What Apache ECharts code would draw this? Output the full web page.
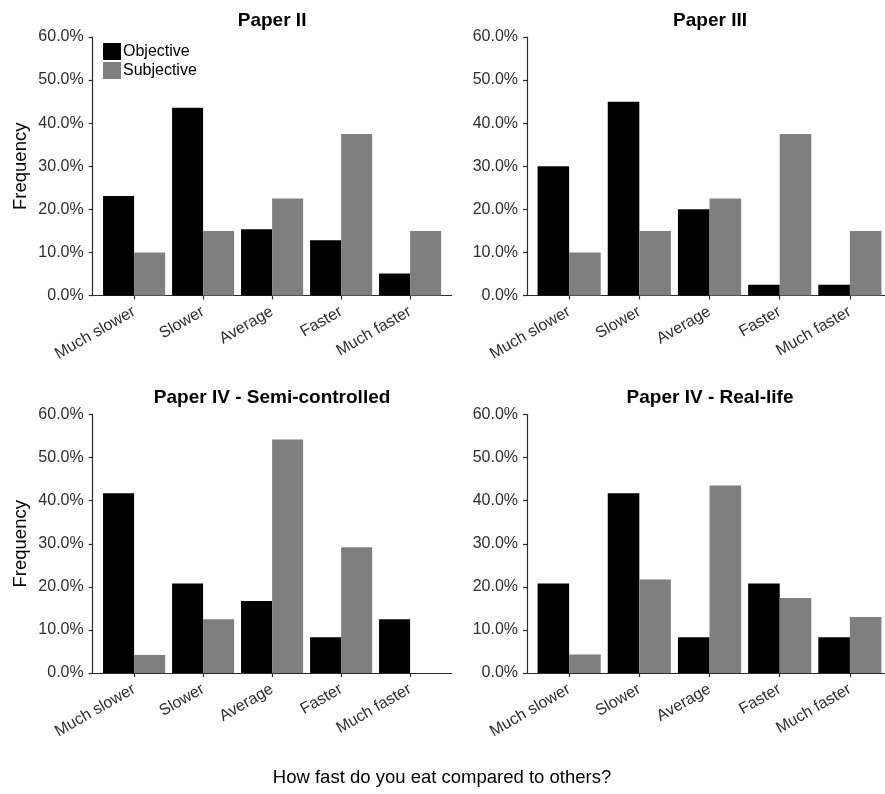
<!DOCTYPE html>
<html>
<head>
<meta charset="utf-8">
<script src="https://cdn.jsdelivr.net/npm/echarts@6/dist/echarts.min.js"></script>
<style>
  html, body { margin: 0; padding: 0; background: #fff; }
  #chart { width: 885px; height: 794px; }
</style>
</head>
<body>
<div id="chart"></div>
<script>
// Eating-speed answers, in percent of respondents
const categories = ['Much slower', 'Slower', 'Average', 'Faster', 'Much faster'];
const seriesNames = ['Objective', 'Subjective'];

const paper2Objective  = [23.1, 43.6, 15.4, 12.8, 5.1];
const paper2Subjective = [10.0, 15.0, 22.5, 37.5, 15.0];

const paper3Objective  = [30.0, 45.0, 20.0, 2.5, 2.5];
const paper3Subjective = [10.0, 15.0, 22.5, 37.5, 15.0];

const semiObjective    = [41.7, 20.8, 16.7, 8.3, 12.5];
const semiSubjective   = [4.2, 12.5, 54.2, 29.2, 0];

const realObjective    = [20.8, 41.7, 8.3, 20.8, 8.3];
const realSubjective   = [4.3, 21.7, 43.5, 17.4, 13.0];

const panelTitles = ['Paper II', 'Paper III', 'Paper IV - Semi-controlled', 'Paper IV - Real-life'];
const yMin = 0, yMax = 60, yStep = 10;
const xAxisTitle = 'How fast do you eat compared to others?';
const yAxisTitle = 'Frequency';

const panelData = [
  [paper2Objective, paper2Subjective],
  [paper3Objective, paper3Subjective],
  [semiObjective, semiSubjective],
  [realObjective, realSubjective]
];

// Panel geometry: axis origin x, category step, plot top
const layout = [
  { x: 92.7, step: 69.0, top: 37.0, showYName: true },
  { x: 527.0, step: 70.4, top: 37.0, showYName: false },
  { x: 92.7, step: 69.0, top: 414.5, showYName: true },
  { x: 527.0, step: 70.4, top: 414.5, showYName: false }
];
const plotHeight = 258.5;

const FONT = "'Liberation Sans', Arial, sans-serif";
const barColors = ['#000000', '#7f7f7f'];
const axisColor = '#2b2b2b';

const grid = [], xAxis = [], yAxis = [], series = [], title = [];

layout.forEach((p, i) => {
  const outerWidth = 5.2 * p.step;
  // frame grid: carries the axis lines and the y scale
  grid.push({ left: p.x, top: p.top, width: outerWidth, height: plotHeight, containLabel: false });
  // bar grid: five category bands inset by 0.1 step on both sides
  grid.push({ left: p.x + 0.1 * p.step, top: p.top, width: 5 * p.step, height: plotHeight, containLabel: false });

  const g0 = 2 * i, g1 = 2 * i + 1;

  xAxis.push({
    gridIndex: g0, type: 'value', min: 0, max: 1,
    axisLine: { show: true, onZero: false, lineStyle: { color: axisColor, width: 1.2 } },
    axisTick: { show: false }, axisLabel: { show: false }, splitLine: { show: false }
  });
  yAxis.push({
    gridIndex: g0, type: 'value', min: yMin, max: yMax, interval: yStep,
    axisLine: { show: true, lineStyle: { color: axisColor, width: 1.2 } },
    axisTick: { show: true, length: 4, lineStyle: { color: axisColor, width: 1.2 } },
    axisLabel: {
      margin: 9, color: '#2e2e2e', fontFamily: FONT, fontSize: 16,
      formatter: v => v.toFixed(1) + '%'
    },
    splitLine: { show: false },
    name: p.showYName ? yAxisTitle : '',
    nameLocation: 'middle', nameGap: 62,
    nameTextStyle: { color: '#000', fontFamily: FONT, fontSize: 18.5 }
  });

  xAxis.push({
    gridIndex: g1, type: 'category', data: categories, boundaryGap: true,
    axisLine: { show: false },
    axisTick: { show: true, alignWithLabel: true, length: 4, lineStyle: { color: axisColor, width: 1.2 } },
    axisLabel: { rotate: 30, margin: 15, interval: 0, color: '#2e2e2e', fontFamily: FONT, fontSize: 16 },
    splitLine: { show: false }
  });
  yAxis.push({ gridIndex: g1, type: 'value', min: yMin, max: yMax, show: false, splitLine: { show: false } });

  panelData[i].forEach((vals, k) => {
    series.push({
      name: seriesNames[k], type: 'bar', xAxisIndex: 2 * i + 1, yAxisIndex: 2 * i + 1,
      data: vals, barCategoryGap: '10%', barGap: '0%',
      itemStyle: { color: barColors[k] }, silent: true
    });
  });

  title.push({
    text: panelTitles[i], left: p.x + outerWidth / 2, textAlign: 'center', top: p.top - 26,
    padding: 0,
    textStyle: { fontFamily: FONT, fontSize: 19, fontWeight: 'bold', color: '#000' }
  });
});

title.push({
  text: xAxisTitle, left: 442, textAlign: 'center', top: 768, padding: 0,
  textStyle: { fontFamily: FONT, fontSize: 18.5, fontWeight: 'normal', color: '#000' }
});

const chart = echarts.init(document.getElementById('chart'), null, { renderer: 'canvas' });
chart.setOption({
  animation: false,
  backgroundColor: '#fff',
  title: title,
  legend: {
    data: seriesNames, orient: 'vertical', left: 103, top: 43,
    itemWidth: 18, itemHeight: 17, itemGap: 2, icon: 'rect', padding: 0,
    textStyle: { fontFamily: FONT, fontSize: 16, color: '#000', padding: [0, 0, 0, -3] },
    selectedMode: false
  },
  grid: grid,
  xAxis: xAxis,
  yAxis: yAxis,
  series: series
});
</script>
</body>
</html>
